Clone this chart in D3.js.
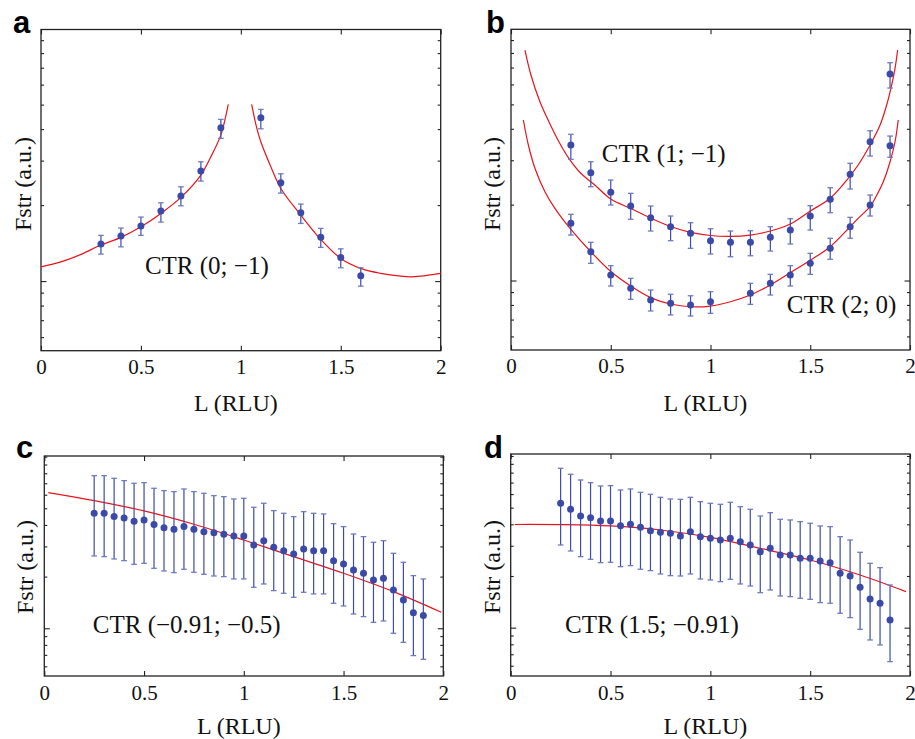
<!DOCTYPE html>
<html>
<head>
<meta charset="utf-8">
<script src="https://cdn.jsdelivr.net/npm/d3@7"></script>
<style>
  body { margin: 0; background: #fff; }
</style>
</head>
<body>
<script>
const width = 915
const height = 739

const serif = "'Liberation Serif', 'Times New Roman', serif"
const ptColor = '#3b4aa8'
const barColor = '#3d4ca8'
const fitColor = '#e8141c'

// axis ticks
const xTicks = [0, 0.5, 1, 1.5, 2]
const xTickLabels = ['0', '0.5', '1', '1.5', '2']
const yMinorTicks = [0.6, 0.7, 0.8, 0.9, 2, 3, 4, 5, 6, 7, 8, 9, 10]
const yMajorTicks = [1]

// panel a : CTR (0; -1)
const aL = [0.3, 0.4, 0.5, 0.6, 0.7, 0.8, 0.9, 1.1, 1.2, 1.3, 1.4, 1.5, 1.6]
const aF = [1.401, 1.508, 1.651, 1.893, 2.171, 2.727, 4.047, 4.433, 2.451, 1.864, 1.490, 1.241, 1.049]
const aLo = [1.279, 1.367, 1.517, 1.713, 1.987, 2.489, 3.674, 4.011, 2.231, 1.692, 1.360, 1.129, 0.955]
const aHi = [1.517, 1.622, 1.793, 2.042, 2.363, 2.968, 4.369, 4.786, 2.661, 2.018, 1.617, 1.342, 1.129]
const aFitL1 = [0, 0.1, 0.2, 0.3, 0.4, 0.5, 0.6, 0.7, 0.8, 0.85, 0.9, 0.92, 0.937]
const aFit1 = [1.139, 1.192, 1.276, 1.389, 1.490, 1.641, 1.854, 2.146, 2.630, 3.107, 3.786, 4.34, 5.01]
const aFitL2 = [1.054, 1.08, 1.1, 1.15, 1.2, 1.3, 1.4, 1.5, 1.6, 1.7, 1.8, 1.85, 1.9, 2.0]
const aFit2 = [5.01, 4.025, 3.562, 2.836, 2.328, 1.825, 1.462, 1.230, 1.123, 1.073, 1.046, 1.040, 1.046, 1.073]

// panel b : CTR (1; -1) and CTR (2; 0)
const bL1 = [0.3, 0.4, 0.5, 0.6, 0.7, 0.8, 0.9, 1.0, 1.1, 1.2, 1.3, 1.4, 1.5, 1.6, 1.7, 1.8, 1.9]
const bF1 = [3.450, 2.678, 2.239, 1.975, 1.775, 1.635, 1.539, 1.439, 1.418, 1.418, 1.484, 1.586, 1.803, 2.100, 2.639, 3.554, 6.598]
const bLo1 = [3.027, 2.356, 1.993, 1.750, 1.572, 1.439, 1.342, 1.274, 1.243, 1.254, 1.309, 1.396, 1.586, 1.858, 2.307, 3.119, 5.806]
const bHi1 = [3.804, 2.961, 2.505, 2.218, 1.975, 1.803, 1.696, 1.605, 1.572, 1.576, 1.635, 1.759, 1.981, 2.335, 2.918, 3.930, 7.317]
const bL2 = [0.3, 0.4, 0.5, 0.6, 0.7, 0.8, 0.9, 1.0, 1.2, 1.3, 1.4, 1.5, 1.6, 1.7, 1.8, 1.9]
const bF2 = [1.687, 1.301, 1.051, 0.931, 0.837, 0.812, 0.799, 0.824, 0.890, 0.975, 1.051, 1.170, 1.342, 1.635, 1.993, 3.427]
const bLo2 = [1.515, 1.170, 0.951, 0.842, 0.757, 0.730, 0.723, 0.741, 0.804, 0.876, 0.951, 1.058, 1.214, 1.471, 1.803, 3.083]
const bHi2 = [1.831, 1.418, 1.145, 1.020, 0.917, 0.882, 0.870, 0.903, 0.975, 1.058, 1.145, 1.282, 1.471, 1.781, 2.184, 3.744]
const bFitL1 = [0.07, 0.1, 0.145, 0.19, 0.24, 0.29, 0.35, 0.42, 0.5, 0.6, 0.7, 0.8, 0.9, 1.0, 1.1, 1.2, 1.3, 1.4, 1.5,
                1.6, 1.69, 1.74, 1.8, 1.85, 1.883, 1.908, 1.925, 1.938]
const bFit1 = [8.218, 6.540, 5.124, 4.267, 3.554, 3.054, 2.664, 2.393, 2.106, 1.931, 1.770, 1.638, 1.553, 1.509, 1.497, 1.515, 1.572, 1.676, 1.887,
               2.120, 2.544, 2.873, 3.450, 4.140, 4.972, 5.968, 6.952, 8.218]
const bFitL2 = [0.062, 0.087, 0.12, 0.17, 0.22, 0.296, 0.4, 0.505, 0.6, 0.7, 0.8, 0.9, 1.0, 1.1, 1.2, 1.3, 1.4, 1.52,
                1.6, 1.7, 1.74, 1.8, 1.825, 1.866, 1.9, 1.925, 1.941]
const bFit2 = [4.335, 3.450, 2.788, 2.251, 1.934, 1.611, 1.301, 1.078, 0.951, 0.855, 0.807, 0.787, 0.792, 0.824, 0.876, 0.960, 1.074, 1.232,
               1.362, 1.635, 1.765, 1.963, 2.120, 2.466, 2.961, 3.554, 4.335]

// panels c and d share the L grid
const cdL = [0.25, 0.3, 0.35, 0.4, 0.45, 0.5, 0.55, 0.6, 0.65, 0.7, 0.75, 0.8, 0.85, 0.9, 0.95, 1.0, 1.05,
             1.1, 1.15, 1.2, 1.25, 1.3, 1.35, 1.4, 1.45, 1.5, 1.55, 1.6, 1.65, 1.7, 1.75, 1.8, 1.85, 1.9]

// panel c : CTR (-0.91; -0.5)
const cF = [4.677, 4.677, 4.473, 4.394, 4.202, 4.277, 4.018, 3.859, 3.774, 3.912, 3.774, 3.657, 3.608, 3.527, 3.451, 3.451, 3.059,
            3.241, 2.964, 2.834, 2.710, 2.898, 2.834, 2.834, 2.478, 2.370, 2.186, 2.091, 1.912, 1.955, 1.672, 1.462, 1.233, 1.185]
const cLo = [2.638, 2.615, 2.534, 2.478, 2.359, 2.391, 2.236, 2.157, 2.110, 2.206, 2.120, 2.063, 2.017, 1.999, 1.938, 1.938, 1.733,
             1.812, 1.657, 1.599, 1.515, 1.620, 1.585, 1.585, 1.398, 1.349, 1.211, 1.169, 1.083, 1.103, 0.935, 0.828, 0.693, 0.659]
const cHi = [7.753, 7.753, 7.480, 7.250, 6.996, 7.059, 6.542, 6.340, 6.255, 6.483, 6.255, 6.117, 5.928, 5.849, 5.669, 5.720, 5.070,
             5.349, 4.848, 4.677, 4.473, 4.783, 4.677, 4.636, 4.072, 3.912, 3.543, 3.420, 3.170, 3.241, 2.734, 2.423, 2.026, 1.938]
const cFitL = [0.02, 0.25, 0.5, 0.75, 1.0, 1.25, 1.5, 1.75, 1.99]
const cFit = [6.172, 5.543, 4.827, 4.036, 3.270, 2.615, 2.091, 1.635, 1.239]

// panel d : CTR (1.5; -0.91)
const dF = [5.301, 4.891, 4.473, 4.374, 4.183, 4.183, 3.929, 4.000, 3.843, 3.674, 3.593, 3.544, 3.420, 3.625, 3.389, 3.314, 3.241,
            3.314, 3.170, 3.031, 2.772, 2.899, 2.651, 2.651, 2.535, 2.535, 2.446, 2.392, 2.073, 2.000, 1.718, 1.470, 1.387, 1.109]
const dLo = [3.031, 2.797, 2.592, 2.501, 2.392, 2.403, 2.267, 2.298, 2.188, 2.149, 2.055, 2.009, 2.000, 2.055, 1.921, 1.896, 1.854,
             1.913, 1.797, 1.749, 1.600, 1.658, 1.530, 1.516, 1.483, 1.463, 1.399, 1.387, 1.213, 1.144, 0.978, 0.848, 0.793, 0.634]
const dHi = [8.477, 7.823, 7.248, 6.993, 6.688, 6.717, 6.339, 6.424, 6.143, 5.981, 5.745, 5.618, 5.592, 5.745, 5.420, 5.301, 5.231,
             5.373, 5.069, 4.891, 4.473, 4.677, 4.278, 4.240, 4.146, 4.055, 3.912, 3.877, 3.389, 3.241, 2.748, 2.371, 2.237, 1.773]
const dFitL = [0.02, 0.25, 0.5, 0.75, 1.0, 1.25, 1.5, 1.75, 1.98]
const dFit = [3.99, 3.982, 3.912, 3.707, 3.359, 2.899, 2.479, 2.027, 1.622]

function zipPts(L, F, lo, hi) {
    return L.map((l, i) => ({ L: l, F: F[i], lo: lo[i], hi: hi[i] }))
}
function zipFit(L, F) {
    return L.map((l, i) => ({ L: l, F: F[i] }))
}

const panels = [
    { tag: 'a', tagX: 13, tagY: 33, x0: 41, x1: 440.7, y0: 29.5, y1: 350.7, yDom: [0.53, 9.92],
      tickPad: 8, titleY: 411, ylabX: 31, ylabY: 184,
      series: [zipPts(aL, aF, aLo, aHi)],
      fits: [zipFit(aFitL1, aFit1), zipFit(aFitL2, aFit2)],
      notes: [{ text: 'CTR (0; \u22121)', L: 0.52, F: 1.066 }] },
    { tag: 'b', tagX: 486, tagY: 33, x0: 511, x1: 910, y0: 29.3, y1: 350, yDom: [0.53, 9.93],
      tickPad: 8, titleY: 411, ylabX: 500, ylabY: 184,
      series: [zipPts(bL1, bF1, bLo1, bHi1), zipPts(bL2, bF2, bLo2, bHi2)],
      fits: [zipFit(bFitL1, bFit1), zipFit(bFitL2, bFit2)],
      notes: [{ text: 'CTR (1; \u22121)', L: 0.455, F: 2.95 }, { text: 'CTR (2; 0)', L: 1.382, F: 0.743 }] },
    { tag: 'c', tagX: 16, tagY: 458, x0: 44.3, x1: 443.3, y0: 456, y1: 676, yDom: [0.527, 10.09],
      tickPad: 9, titleY: 734, ylabX: 33, ylabY: 567,
      series: [zipPts(cdL, cF, cLo, cHi)],
      fits: [zipFit(cFitL, cFit)],
      notes: [{ text: 'CTR (\u22120.91; \u22120.5)', L: 0.243, F: 0.939 }] },
    { tag: 'd', tagX: 484, tagY: 458, x0: 510.7, x1: 910, y0: 454, y1: 676, yDom: [0.523, 10.27],
      tickPad: 9, titleY: 734, ylabX: 500, ylabY: 567,
      series: [zipPts(cdL, dF, dLo, dHi)],
      fits: [zipFit(dFitL, dFit)],
      notes: [{ text: 'CTR (1.5; \u22120.91)', L: 0.272, F: 0.931 }] }
]

const svg = d3.select('body').append('svg')
    .attr('width', width)
    .attr('height', height)

panels.forEach(p => {
    const x = d3.scaleLinear().domain([0, 2]).range([p.x0, p.x1])
    const y = d3.scaleLog().domain(p.yDom).range([p.y1, p.y0])
    const g = svg.append('g')

    // inward ticks on all four sides
    const fmt = (d, i) => xTickLabels[i]
    const yMinor = yMinorTicks.filter(v => v < p.yDom[1])
    g.append('g').attr('transform', `translate(0,${p.y1})`)
        .call(d3.axisBottom(x).tickValues(xTicks).tickFormat(fmt).tickSizeInner(-5).tickSizeOuter(0).tickPadding(p.tickPad))
    g.append('g').attr('transform', `translate(0,${p.y0})`)
        .call(d3.axisTop(x).tickValues(xTicks).tickFormat('').tickSizeInner(-5).tickSizeOuter(0))
    g.append('g').attr('transform', `translate(${p.x0},0)`)
        .call(d3.axisLeft(y).tickValues(yMinor).tickFormat('').tickSizeInner(-3).tickSizeOuter(0))
    g.append('g').attr('transform', `translate(${p.x0},0)`)
        .call(d3.axisLeft(y).tickValues(yMajorTicks).tickFormat('').tickSizeInner(-5.5).tickSizeOuter(0))
    g.append('g').attr('transform', `translate(${p.x1},0)`)
        .call(d3.axisRight(y).tickValues(yMinor).tickFormat('').tickSizeInner(-3).tickSizeOuter(0))
    g.append('g').attr('transform', `translate(${p.x1},0)`)
        .call(d3.axisRight(y).tickValues(yMajorTicks).tickFormat('').tickSizeInner(-5.5).tickSizeOuter(0))

    g.selectAll('.domain').remove()
    g.selectAll('.tick line').attr('stroke', '#222').attr('stroke-width', 1.1)
    g.selectAll('.tick text')
        .attr('font-family', serif)
        .attr('font-size', 21)
        .attr('fill', '#111')

    g.append('rect')
        .attr('x', p.x0).attr('y', p.y0)
        .attr('width', p.x1 - p.x0).attr('height', p.y1 - p.y0)
        .attr('fill', 'none')
        .attr('stroke', '#222')
        .attr('stroke-width', 1.3)

    // fitted curves
    const line = d3.line()
        .x(d => x(d.L))
        .y(d => y(d.F))
        .curve(d3.curveCatmullRom.alpha(0.5))
    p.fits.forEach(f => {
        g.append('path')
            .datum(f)
            .attr('d', line)
            .attr('fill', 'none')
            .attr('stroke', fitColor)
            .attr('stroke-width', 1.2)
    })

    // error bars + points
    p.series.forEach(s => {
        const eb = g.append('g').selectAll('g').data(s).join('g')
        eb.append('line')
            .attr('x1', d => x(d.L)).attr('x2', d => x(d.L))
            .attr('y1', d => y(d.lo)).attr('y2', d => y(d.hi))
            .attr('stroke', barColor).attr('stroke-width', 1.2)
        eb.append('line')
            .attr('x1', d => x(d.L) - 2.8).attr('x2', d => x(d.L) + 2.8)
            .attr('y1', d => y(d.lo)).attr('y2', d => y(d.lo))
            .attr('stroke', '#6f7bc2').attr('stroke-width', 1.3)
        eb.append('line')
            .attr('x1', d => x(d.L) - 2.8).attr('x2', d => x(d.L) + 2.8)
            .attr('y1', d => y(d.hi)).attr('y2', d => y(d.hi))
            .attr('stroke', '#6f7bc2').attr('stroke-width', 1.3)
        eb.append('circle')
            .attr('cx', d => x(d.L))
            .attr('cy', d => y(d.F))
            .attr('r', 3.5)
            .attr('fill', ptColor)
    })

    // annotations
    p.notes.forEach(n => {
        g.append('text')
            .attr('x', x(n.L)).attr('y', y(n.F))
            .attr('font-family', serif)
            .attr('font-size', 25)
            .attr('fill', '#111')
            .text(n.text)
    })

    // axis titles
    g.append('text')
        .attr('x', (p.x0 + p.x1) / 2 - 5)
        .attr('y', p.titleY)
        .attr('text-anchor', 'middle')
        .attr('font-family', serif)
        .attr('font-size', 24)
        .attr('fill', '#111')
        .text('L (RLU)')
    g.append('text')
        .attr('transform', `translate(${p.ylabX},${p.ylabY}) rotate(-90)`)
        .attr('text-anchor', 'middle')
        .attr('font-family', serif)
        .attr('font-size', 24)
        .attr('fill', '#111')
        .text('Fstr (a.u.)')

    // panel letter
    g.append('text')
        .attr('x', p.tagX).attr('y', p.tagY)
        .attr('font-family', "'Liberation Sans', Arial, sans-serif")
        .attr('font-weight', 'bold')
        .attr('font-size', 31)
        .attr('fill', '#000')
        .text(p.tag)
})
</script>
</body>
</html>
